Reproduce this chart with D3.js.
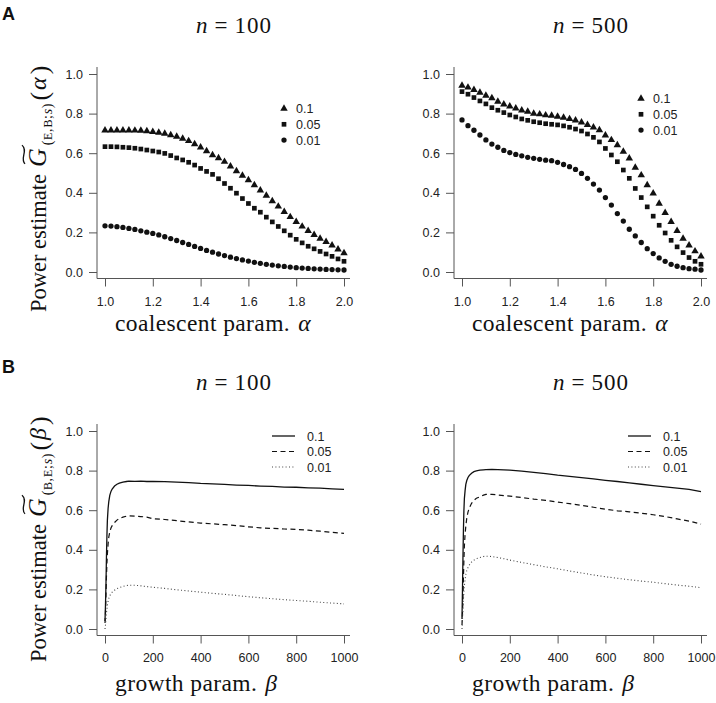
<!DOCTYPE html>
<html>
<head>
<meta charset="utf-8">
<script src="https://cdn.jsdelivr.net/npm/d3@7"></script>
<style>
body{margin:0;background:#fff}
svg text{font-family:"Liberation Sans",Arial,sans-serif}
.serif text, text.serif{font-family:"Liberation Serif","DejaVu Serif",serif}
</style>
</head>
<body>
<svg id="chart" width="716" height="703"></svg>
<script>
// alpha grid (panel A) and beta grid (panel B)
var alphaGrid = [1.000,1.025,1.050,1.075,1.100,1.125,1.150,1.175,1.200,1.225,1.250,1.275,1.300,1.325,1.350,1.375,1.400,1.425,1.450,1.475,
                 1.500,1.525,1.550,1.575,1.600,1.625,1.650,1.675,1.700,1.725,1.750,1.775,1.800,1.825,1.850,1.875,1.900,1.925,1.950,1.975,2.000]

// panel A, n = 100
var a100_01  = [0.716,0.716,0.716,0.716,0.716,0.715,0.714,0.712,0.708,0.704,0.699,0.692,0.684,0.674,0.662,0.646,0.630,0.611,0.591,0.575,
                0.557,0.534,0.510,0.487,0.464,0.439,0.413,0.386,0.358,0.331,0.304,0.278,0.253,0.230,0.208,0.188,0.169,0.152,0.135,0.115,0.096]
var a100_005 = [0.633,0.633,0.632,0.630,0.628,0.625,0.621,0.616,0.611,0.606,0.599,0.588,0.576,0.566,0.554,0.540,0.523,0.508,0.493,0.471,
                0.447,0.423,0.398,0.371,0.346,0.322,0.302,0.277,0.253,0.230,0.208,0.186,0.165,0.147,0.130,0.117,0.104,0.091,0.079,0.066,0.054]
var a100_001 = [0.233,0.232,0.229,0.225,0.220,0.215,0.208,0.201,0.195,0.187,0.178,0.169,0.159,0.149,0.139,0.129,0.119,0.109,0.100,0.091,
                0.083,0.075,0.068,0.061,0.055,0.049,0.044,0.039,0.035,0.031,0.028,0.025,0.022,0.020,0.018,0.016,0.015,0.013,0.012,0.011,0.010]
// panel A, n = 500
var a500_01  = [0.942,0.932,0.920,0.906,0.891,0.878,0.861,0.847,0.837,0.827,0.817,0.810,0.800,0.797,0.792,0.790,0.785,0.780,0.773,0.766,
                0.756,0.743,0.731,0.717,0.690,0.667,0.641,0.608,0.574,0.527,0.489,0.439,0.397,0.346,0.299,0.253,0.208,0.169,0.135,0.105,0.079]
var a500_005 = [0.911,0.898,0.881,0.864,0.849,0.830,0.817,0.805,0.793,0.783,0.773,0.766,0.759,0.754,0.749,0.746,0.743,0.738,0.731,0.722,
                0.712,0.697,0.680,0.657,0.624,0.591,0.557,0.515,0.473,0.422,0.376,0.329,0.282,0.236,0.197,0.160,0.127,0.098,0.073,0.054,0.039]
var a500_001 = [0.768,0.739,0.716,0.692,0.667,0.646,0.630,0.614,0.603,0.594,0.587,0.579,0.574,0.569,0.565,0.562,0.554,0.543,0.532,0.518,
                0.498,0.473,0.444,0.414,0.376,0.338,0.295,0.257,0.216,0.182,0.149,0.118,0.093,0.071,0.054,0.039,0.029,0.022,0.017,0.014,0.010]

var betaGrid = [0,2,4,6,8,10,13,16,20,25,30,40,50,60,75,90,100,125,150,175,200,250,300,350,400,450,500,550,600,650,700,750,800,850,900,950,1000]

// panel B, n = 100
var b100_01  = [0.04,0.12,0.22,0.36,0.47,0.55,0.61,0.645,0.675,0.695,0.707,0.722,0.731,0.737,0.742,0.745,0.747,0.746,0.747,0.745,
                0.746,0.744,0.742,0.739,0.735,0.733,0.730,0.727,0.725,0.722,0.720,0.717,0.716,0.713,0.711,0.708,0.705]
var b100_005 = [0.03,0.08,0.17,0.26,0.33,0.38,0.43,0.465,0.49,0.51,0.522,0.538,0.55,0.558,0.565,0.57,0.572,0.570,0.568,0.565,
                0.557,0.553,0.547,0.541,0.535,0.531,0.527,0.522,0.516,0.511,0.508,0.505,0.503,0.499,0.494,0.488,0.483]
var b100_001 = [0,0.02,0.05,0.08,0.10,0.12,0.14,0.155,0.168,0.178,0.186,0.196,0.204,0.209,0.215,0.219,0.221,0.221,0.218,0.214,
                0.211,0.205,0.198,0.192,0.186,0.180,0.175,0.169,0.163,0.158,0.153,0.148,0.144,0.140,0.135,0.131,0.127]
// panel B, n = 500
var b500_01  = [0.05,0.20,0.36,0.50,0.60,0.66,0.70,0.73,0.75,0.765,0.775,0.787,0.795,0.799,0.802,0.804,0.805,0.806,0.805,0.804,
                0.802,0.797,0.791,0.785,0.777,0.771,0.765,0.758,0.751,0.745,0.738,0.731,0.724,0.718,0.712,0.705,0.694]
var b500_005 = [0.02,0.08,0.16,0.26,0.35,0.42,0.48,0.52,0.56,0.59,0.61,0.635,0.65,0.66,0.668,0.676,0.680,0.680,0.677,0.674,
                0.671,0.664,0.656,0.650,0.641,0.633,0.624,0.615,0.605,0.597,0.592,0.585,0.577,0.568,0.556,0.545,0.530]
var b500_001 = [0,0.05,0.10,0.15,0.19,0.22,0.25,0.275,0.295,0.31,0.322,0.338,0.348,0.355,0.361,0.366,0.368,0.366,0.361,0.355,
                0.348,0.336,0.325,0.314,0.304,0.293,0.283,0.273,0.264,0.256,0.249,0.242,0.236,0.229,0.222,0.216,0.209]

var levels = ["0.1","0.05","0.01"]
var alphaTicks = [1.0,1.2,1.4,1.6,1.8,2.0]
var betaTicks = [0,200,400,600,800,1000]
var yTicks = [0,0.2,0.4,0.6,0.8,1.0]

var svg = d3.select("#chart")

var panels = [
    {n:"100", row:"A", x0:105, y0:272, grid:alphaGrid, dom:[1,2], ticks:alphaTicks, fmt:d3.format(".1f"), series:[a100_01,a100_005,a100_001], leg:[284,108.5], pad:11},
    {n:"500", row:"A", x0:462, y0:272, grid:alphaGrid, dom:[1,2], ticks:alphaTicks, fmt:d3.format(".1f"), series:[a500_01,a500_005,a500_001], leg:[641,98.5], pad:11},
    {n:"100", row:"B", x0:105, y0:629, grid:betaGrid, dom:[0,1000], ticks:betaTicks, fmt:d3.format("d"), series:[b100_01,b100_005,b100_001], leg:[272,436], pad:10},
    {n:"500", row:"B", x0:462, y0:629, grid:betaGrid, dom:[0,1000], ticks:betaTicks, fmt:d3.format("d"), series:[b500_01,b500_005,b500_001], leg:[628,436], pad:10}
]

var symbols = [d3.symbol(d3.symbolTriangle).size(24), d3.symbol(d3.symbolSquare).size(22), d3.symbol(d3.symbolCircle).size(22)]
var dashes = [null, "5,3.5", "1,2.4"]
var widths = [1.3, 1.2, 1.1]
var lineColors = ["#111", "#111", "#444"]

var drawPanel = function(p)
{
    var x = d3.scaleLinear().domain(p.dom).range([p.x0, p.x0 + 239])
    var y = d3.scaleLinear().domain([0, 1]).range([p.y0, p.y0 - 198])
    var g = svg.append("g")

    var axX = x.range()[0] - 8
    var axY = y.range()[0] + 6.5

    // L shaped frame
    g.append("path")
        .attr("d", "M" + axX + "," + (y.range()[1] - 7) + "V" + axY + "H" + (x.range()[1] + 6))
        .attr("fill", "none")
        .attr("stroke", "#555")

    var yAxis = d3.axisLeft(y).tickValues(yTicks).tickSize(8).tickPadding(6).tickFormat(d3.format(".1f"))
    var xAxis = d3.axisBottom(x).tickValues(p.ticks).tickSize(8).tickPadding(p.pad).tickFormat(p.fmt)

    g.append("g").attr("transform", "translate(" + axX + ",0)").call(yAxis)
    g.append("g").attr("transform", "translate(0," + axY + ")").call(xAxis)
    g.selectAll(".domain").remove()
    g.selectAll(".tick line").attr("stroke", "#555")
    g.selectAll(".tick text").attr("fill", "#222").attr("font-size", 12.5)
        .attr("font-family", "'Liberation Sans',Arial,sans-serif")

    if (p.row == "A") {
        p.series.forEach(function(s, k) {
            g.append("g").selectAll("path")
                .data(s)
                .enter()
                .append("path")
                .attr("transform", function(v, i) { return "translate(" + x(p.grid[i]) + "," + y(v) + ")" })
                .attr("d", symbols[k])
                .attr("fill", "#111")
        })
        levels.forEach(function(l, k) {
            var ly = p.leg[1] + k * 15.8
            g.append("path").attr("transform", "translate(" + p.leg[0] + "," + ly + ")").attr("d", symbols[k]).attr("fill", "#111")
            g.append("text").attr("x", p.leg[0] + 12).attr("y", ly).attr("dy", "0.36em")
                .attr("font-size", 12.5).attr("fill", "#222").text(l)
        })
    } else {
        var lineGenerator = d3.line()
            .x(function(v, i) { return x(p.grid[i]) })
            .y(function(v) { return y(v) })
        p.series.forEach(function(s, k) {
            g.append("path")
                .datum(s)
                .attr("d", lineGenerator)
                .attr("fill", "none")
                .attr("stroke", lineColors[k])
                .attr("stroke-width", widths[k])
                .attr("stroke-dasharray", dashes[k])
        })
        levels.forEach(function(l, k) {
            var ly = p.leg[1] + k * 15.5
            g.append("line").attr("x1", p.leg[0]).attr("x2", p.leg[0] + 23).attr("y1", ly).attr("y2", ly)
                .attr("stroke", lineColors[k]).attr("stroke-width", widths[k]).attr("stroke-dasharray", dashes[k])
            g.append("text").attr("x", p.leg[0] + 35).attr("y", ly).attr("dy", "0.36em")
                .attr("font-size", 12.5).attr("fill", "#222").text(l)
        })
    }

    // title  n = ...
    var top = p.row == "A" ? 33 : 390
    var t = svg.append("text").attr("class", "serif").attr("x", p.x0 + 129).attr("y", top)
        .attr("text-anchor", "middle").attr("font-size", 23).attr("fill", "#111")
    t.append("tspan").attr("font-style", "italic").text("n")
    t.append("tspan").attr("dx", 7).text("=")
    t.append("tspan").attr("dx", 7).attr("letter-spacing", 1).text(p.n)

    // x label
    var xl = svg.append("text").attr("class", "serif").attr("x", p.x0 + 10)
        .attr("y", p.row == "A" ? 331 : 691).attr("font-size", 23.5).attr("letter-spacing", 0.4).attr("fill", "#111")
    xl.append("tspan").text(p.row == "A" ? "coalescent param." : "growth param.")
    xl.append("tspan").attr("dx", 8).attr("font-style", "italic").text(p.row == "A" ? "\u03b1" : "\u03b2")
}

panels.forEach(drawPanel)

// y labels:  Power estimate G~_(sub)(arg)
var drawYLabel = function(bx, by, sub, arg)
{
    var g = svg.append("g").attr("class", "serif")
        .attr("transform", "translate(" + bx + "," + by + ") rotate(-90)")
        .attr("fill", "#111")
    var cx = 0
    var piece = function(str, size, italic, dy, after, ls)
    {
        var t = g.append("text").attr("x", cx).attr("y", dy).attr("font-size", size)
            .attr("font-style", italic ? "italic" : "normal").text(str)
        if (ls) t.attr("letter-spacing", ls)
        var w = t.node().getComputedTextLength()
        var start = cx
        cx += w + after
        return {x: start, w: w}
    }
    piece("Power estimate", 22.5, false, 0, 7)
    var G = piece("G", 26, true, 0, 3)
    // wide tilde over G
    var tx = G.x + 3, tw = G.w, ty = -22.5
    g.append("path")
        .attr("d", "M" + tx + "," + (ty + 1.5) + "C" + (tx + tw * 0.3) + "," + (ty - 4) + " " + (tx + tw * 0.7) + "," + (ty + 5) + " " + (tx + tw) + "," + (ty - 1.5))
        .attr("fill", "none").attr("stroke", "#111").attr("stroke-width", 1.3)
    piece("(", 14, false, 6, 0.5)
    piece(sub[0], 12, false, 6, 0.5)
    piece(",", 14, false, 6, 1)
    piece(sub[1], 12, false, 6, 0.5)
    piece(";", 14, false, 6, 1)
    piece("s", 14, true, 6, 0.5)
    piece(")", 14, false, 6, 3)
    piece("(", 26, false, 1.5, 2)
    piece(arg, 24, true, 0, 3)
    piece(")", 26, false, 1.5, 0)
}

drawYLabel(46, 312, ["E", "B"], "\u03b1")
drawYLabel(46, 662, ["B", "E"], "\u03b2")

svg.append("text").attr("x", 2).attr("y", 20).attr("font-size", 18).attr("font-weight", "bold").attr("fill", "#111").text("A")
svg.append("text").attr("x", 2).attr("y", 373).attr("font-size", 18).attr("font-weight", "bold").attr("fill", "#111").text("B")
</script>
</body>
</html>
